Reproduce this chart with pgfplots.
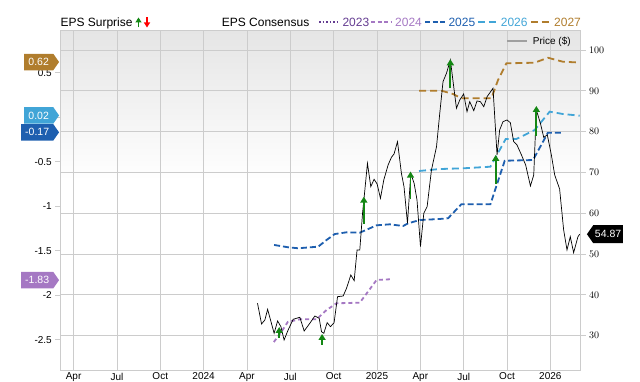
\documentclass[border=0pt]{standalone}
\usepackage{pgfplots}
\pgfplotsset{compat=1.18}
\usepackage{pgfplotstable}
\usepackage{fontspec}
\setmainfont{Liberation Sans}
\usetikzlibrary{arrows.meta,shapes.symbols}
\definecolor{c23}{RGB}{100,60,145}
\definecolor{c24}{RGB}{165,120,195}
\definecolor{c25}{RGB}{30,95,175}
\definecolor{c26}{RGB}{65,165,215}
\definecolor{c27}{RGB}{176,125,45}
\definecolor{gridc}{RGB}{204,204,204}
\definecolor{upg}{RGB}{20,135,20}
\definecolor{bgtop}{RGB}{229,229,229}
\pgfdeclareverticalshading{plotbg}{100bp}{color(0bp)=(white); color(25bp)=(white); color(53bp)=(white); color(75bp)=(bgtop); color(100bp)=(bgtop)}

\pgfplotstableread{
m p
15.73 37.94
16.01 32.87
16.24 33.85
16.43 36.47
16.88 30.59
17.12 33.60
17.35 32.21
17.57 28.95
17.85 31.40
18.20 34.02
18.66 34.51
18.96 31.15
19.35 33.04
19.70 34.83
20.00 34.26
20.16 30.98
20.32 30.59
20.55 33.19
20.78 32.21
21.03 33.19
21.27 39.56
21.66 39.73
21.89 41.61
22.19 44.87
22.42 43.48
22.62 51.00
22.81 51.00
23.00 59.99
23.16 65.70
23.34 72.24
23.57 66.51
23.80 68.32
24.01 67.17
24.24 63.67
24.47 68.15
24.77 71.83
25.00 73.71
25.18 74.52
25.42 77.54
25.69 69.79
25.87 66.51
26.11 57.54
26.34 69.79
26.57 67.34
26.77 63.25
27.01 51.81
27.24 59.99
27.47 61.61
27.77 70.60
28.12 76.31
28.34 84.32
28.57 92.24
28.81 94.30
29.08 97.56
29.31 91.01
29.50 85.72
29.73 87.76
30.00 89.23
30.23 84.89
30.42 87.34
30.70 85.13
30.92 87.51
31.16 87.34
31.39 86.11
31.62 88.56
32.03 90.62
32.31 74.28
32.49 80.40
32.72 82.44
33.00 82.85
33.23 82.19
33.46 77.54
33.69 76.73
34.00 74.28
34.29 71.83
34.62 66.68
34.85 69.38
35.03 85.31
35.31 82.05
35.54 78.62
35.79 79.18
36.07 74.28
36.30 69.38
36.64 65.95
36.92 55.90
37.15 51.00
37.38 54.26
37.61 50.34
37.91 54.26
38.03 54.87
}\price

\pgfplotstableread{
m e
16.86 -2.525
17.42 -2.401
17.83 -2.299
18.66 -2.270
19.82 -2.270
20.51 -2.165
21.20 -2.090
22.81 -2.083
23.36 -1.963
23.97 -1.828
24.93 -1.820
}\cfour

\pgfplotstableread{
m e
16.88 -1.435
17.85 -1.461
18.54 -1.472
19.93 -1.454
20.51 -1.379
21.08 -1.312
21.89 -1.293
22.81 -1.297
23.50 -1.248
23.97 -1.214
24.89 -1.203
25.81 -1.222
26.15 -1.192
26.96 -1.155
28.34 -1.143
28.92 -1.135
29.84 -0.978
31.85 -0.978
32.84 -0.489
34.80 -0.481
35.83 -0.174
36.87 -0.174
}\cfive

\pgfplotstableread{
m e
26.91 -0.604
28.34 -0.582
29.96 -0.574
31.85 -0.556
32.91 -0.245
33.65 -0.245
34.91 -0.144
35.95 0.062
36.87 0.036
38.03 0.017
}\csix

\pgfplotstableread{
m e
26.91 0.298
28.46 0.298
29.26 0.261
29.84 0.212
31.92 0.212
32.38 0.418
32.96 0.605
34.91 0.612
35.83 0.668
36.87 0.623
38.03 0.614
}\cseven

\tikzset{badge/.style={signal, signal pointer angle=110, text=white, inner sep=1pt,
    font=\fontsize{10.5}{12}\selectfont, minimum height=16.5pt}}

\begin{document}
\begin{tikzpicture}
\pgfplotsset{
  base/.style={set layers, scale only axis, width=520.4pt, height=339.6pt,
    at={(60.3pt,11.7pt)}, anchor=south west, xmin=2.08, xmax=38.10, clip=false,
    axis line style={gridc, line width=0.8pt},
    major grid style={gridc, line width=0.8pt},
    tick align=outside, major tick length=5pt,
    tick label style={font=\fontsize{10}{12}\selectfont, text=black},
    every tick/.style={gridc, line width=0.8pt}},
}
% EPS axis (left)
\begin{axis}[base, ymin=-2.8425, ymax=0.9717,
  axis background/.style={shading=plotbg},
  xtick={3,6,...,36},
  xticklabels={Apr,Jul,Oct,2024,Apr,Jul,Oct,2025,Apr,Jul,Oct,2026},
  xmajorgrids, x tick style={draw=none},
  xticklabel style={yshift=6pt},
  ytick={-2.5,-2,-1.5,-1,-0.5,0,0.5},
  yticklabels={-2.5,-2,-1.5,-1,-0.5,,0.5},
  ytick pos=left]
\addplot[c24, line width=1.8pt, dash pattern=on 4pt off 3pt] table[x=m,y=e] {\cfour};
\addplot[c25, line width=1.8pt, dash pattern=on 6pt off 3pt] table[x=m,y=e] {\cfive};
\addplot[c26, line width=1.8pt, dash pattern=on 7pt off 4pt] table[x=m,y=e] {\csix};
\addplot[c27, line width=1.8pt, dash pattern=on 7pt off 4pt] table[x=m,y=e] {\cseven};
\node[badge, signal to=east, fill=c27, minimum width=35pt, anchor=east, xshift=-1pt] at (axis cs:2.08,0.62) {0.62};
\node[badge, signal to=east, fill=c26, minimum width=35pt, anchor=east, xshift=-1pt] at (axis cs:2.08,0.02) {0.02};
\node[badge, signal to=east, fill=c25, minimum width=38pt, anchor=east, xshift=-1pt] at (axis cs:2.08,-0.17) {-0.17};
\node[badge, signal to=east, fill=c24, minimum width=38pt, anchor=east, xshift=-1pt] at (axis cs:2.08,-1.83) {-1.83};
\end{axis}
% Price axis (right)
\begin{axis}[base, ymin=21.52, ymax=104.73,
  xtick=\empty,
  ytick={30,40,...,100}, ymajorgrids, ytick pos=right]
\addplot[black, line width=0.7pt] table[x=m,y=p] {\price};
\foreach \xa/\ya/\yb in {17.23/29.44/32.13, 20.20/27.72/30.42, 23.09/57.37/64.06,
   26.32/63.42/70.19, 29.08/90.62/97.73, 32.22/67.17/74.28, 35.03/78.93/86.28}{
  \edef\tmp{\noexpand\addplot[upg, line width=1.8pt, -{Triangle[width=7pt,length=6pt]}]
     coordinates {(\xa,\ya) (\xa,\yb)};}\tmp
}
\node[badge, signal to=west, fill=black, minimum width=36pt, minimum height=18pt, anchor=west, xshift=6pt] at (axis cs:38.10,54.87) {54.87};
\end{axis}
% legends
\draw[gray!75, line width=2pt] (507.3pt,341pt) -- (526.7pt,341pt);
\node[anchor=base west, inner sep=0pt, font=\fontsize{10}{12}\selectfont] at (532.7pt,337pt) {Price (\$)};
\node[anchor=base west, inner sep=0pt, font=\fontsize{12}{14}\selectfont] at (60.3pt,355.3pt) {EPS Surprise};
\draw[upg, line width=1.8pt, -{Triangle[width=6pt,length=5pt]}] (138.5pt,354.5pt) -- (138.5pt,364.5pt);
\draw[red, line width=1.8pt, -{Triangle[width=6pt,length=5pt]}] (147pt,364.5pt) -- (147pt,354.5pt);
\node[anchor=base west, inner sep=0pt, font=\fontsize{12}{14}\selectfont] at (221.7pt,355.3pt) {EPS Consensus};
\draw[c23, line width=1.8pt, dash pattern=on 1.6pt off 1.9pt] (319pt,359.7pt) -- (338pt,359.7pt);
\node[anchor=base west, inner sep=0pt, text=c23, font=\fontsize{12}{14}\selectfont] at (342.3pt,355.3pt) {2023};
\draw[c24, line width=1.8pt, dash pattern=on 4pt off 2.5pt] (371pt,359.7pt) -- (391.7pt,359.7pt);
\node[anchor=base west, inner sep=0pt, text=c24, font=\fontsize{12}{14}\selectfont] at (395pt,355.3pt) {2024};
\draw[c25, line width=1.8pt, dash pattern=on 5pt off 2.5pt] (425pt,359.7pt) -- (445pt,359.7pt);
\node[anchor=base west, inner sep=0pt, text=c25, font=\fontsize{12}{14}\selectfont] at (448.3pt,355.3pt) {2025};
\draw[c26, line width=1.8pt, dash pattern=on 7pt off 3.5pt] (478.3pt,359.7pt) -- (496pt,359.7pt);
\node[anchor=base west, inner sep=0pt, text=c26, font=\fontsize{12}{14}\selectfont] at (500.7pt,355.3pt) {2026};
\draw[c27, line width=1.8pt, dash pattern=on 7pt off 3.5pt] (531pt,359.7pt) -- (551pt,359.7pt);
\node[anchor=base west, inner sep=0pt, text=c27, font=\fontsize{12}{14}\selectfont] at (554pt,355.3pt) {2027};
\pgfresetboundingbox
\path[use as bounding box] (0,0) rectangle (640pt,382pt);
\end{tikzpicture}
\end{document}
